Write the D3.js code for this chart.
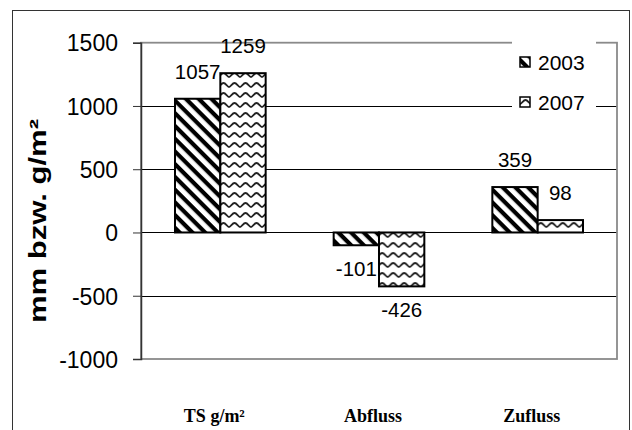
<!DOCTYPE html>
<html><head><meta charset="utf-8">
<script src="https://cdn.jsdelivr.net/npm/d3@7"></script>
<style>body{margin:0;background:#fff}svg{display:block}</style>
</head><body>
<script>
const categories = ["TS g/m²", "Abfluss", "Zufluss"];
const seriesNames = ["2003", "2007"];
const values2003 = [1057, -101, 359];
const values2007 = [1259, -426, 98];
const yTicks = [-1000, -500, 0, 500, 1000, 1500];
const yLabel = "mm bzw. g/m²";

(function () {
const W = 632, H = 430;
const svg = d3.select("body").append("svg").attr("width", W).attr("height", H);
const defs = svg.append("defs");

// stripes pattern
const p1 = defs.append("pattern").attr("id", "stripe").attr("patternUnits", "userSpaceOnUse")
  .attr("width", 9).attr("height", 9).attr("patternTransform", "rotate(45)");
p1.append("rect").attr("width", 9).attr("height", 9).attr("fill", "#fff");
p1.append("rect").attr("y", 0).attr("width", 9).attr("height", 4.2).attr("fill", "#000");
// wave pattern
const p2 = defs.append("pattern").attr("id", "wave").attr("patternUnits", "userSpaceOnUse")
  .attr("width", 11).attr("height", 10);
p2.append("rect").attr("width", 11).attr("height", 10).attr("fill", "#fff");
p2.append("path").attr("d", "M0,7 C1.8,7 3.2,3 5.5,3 C7.8,3 9.2,7 11,7")
  .attr("fill", "none").attr("stroke", "#222").attr("stroke-width", 1.8);
const fills = {"2003": "url(#stripe)", "2007": "url(#wave)"};

// outer border
svg.append("rect").attr("x", 12.5).attr("y", 10.5).attr("width", 617).attr("height", 440)
  .attr("fill", "none").attr("stroke", "#333").attr("stroke-width", 1);

const pl = 141, pr = 617, pt = 42.7, pb = 359;
const y = d3.scaleLinear().domain([-1000, 1500]).range([pb, pt]);
const x0 = d3.scaleBand().domain(categories).range([pl, pr]).padding(0);
const x1 = d3.scaleBand().domain(seriesNames).range([0, x0.bandwidth()]).paddingInner(0).paddingOuter(0.75);

// gridlines
svg.append("g").selectAll("line").data(yTicks.filter(t => t > -1000 && t < 1500)).join("line")
  .attr("x1", pl).attr("x2", pr).attr("y1", d => Math.round(y(d)) + 0.5).attr("y2", d => Math.round(y(d)) + 0.5)
  .attr("stroke", "#000").attr("stroke-width", 1);
// plot border (gray)
svg.append("rect").attr("x", pl).attr("y", pt).attr("width", pr - pl).attr("height", pb - pt)
  .attr("fill", "none").attr("stroke", "#8a8a8a").attr("stroke-width", 1.8);

// legend background
svg.append("rect").attr("x", 512).attr("y", 38).attr("width", 84).attr("height", 80).attr("fill", "#fff");

// bars
const data = categories.map((c, i) => ({cat: c, vals: [
  {s: "2003", v: values2003[i]}, {s: "2007", v: values2007[i]}]}));
const g = svg.append("g").selectAll("g").data(data).join("g")
  .attr("transform", d => `translate(${x0(d.cat)},0)`);
g.selectAll("rect").data(d => d.vals).join("rect")
  .attr("x", d => x1(d.s)).attr("width", x1.bandwidth())
  .attr("y", d => y(Math.max(0, d.v))).attr("height", d => Math.abs(y(d.v) - y(0)))
  .attr("fill", d => fills[d.s]).attr("stroke", "#000").attr("stroke-width", 2);
g.selectAll("text").data(d => d.vals).join("text")
  .attr("x", d => x1(d.s) + x1.bandwidth() / 2)
  .attr("y", d => d.v >= 0 ? y(d.v) - 20 : y(d.v) + 31)
  .attr("text-anchor", "middle").attr("font-family", "Arial, 'Liberation Sans', sans-serif")
  .attr("font-size", 20.5).text(d => String(d.v));

// y axis
const axis = svg.append("g").attr("transform", `translate(${pl},0)`)
  .call(d3.axisLeft(y).tickValues(yTicks).tickSize(8).tickPadding(0).tickFormat(d => String(d)));
axis.select(".domain").attr("stroke", "#333").attr("stroke-width", 1.5);
axis.selectAll(".tick line").attr("stroke", "#333");
axis.selectAll(".tick text").attr("font-family", "Arial, 'Liberation Sans', sans-serif")
  .attr("font-size", 23).attr("fill", "#000").attr("dy", "0.36em")
  .attr("text-anchor", "end").attr("x", -23);

// y label
svg.append("text").attr("transform", "translate(46,221) rotate(-90) scale(1.35,1)")
  .attr("text-anchor", "middle").attr("font-family", "Arial, 'Liberation Sans', sans-serif")
  .attr("font-weight", "bold").attr("font-size", 23).text(yLabel);

// category labels
svg.append("g").selectAll("text").data(categories).join("text")
  .attr("x", d => x0(d) + x0.bandwidth() / 2 - 6).attr("y", 422)
  .attr("text-anchor", "middle").attr("font-family", "'Times New Roman', 'Liberation Serif', serif")
  .attr("font-weight", "bold").attr("font-size", 18).text(d => d);

// legend
const leg = svg.append("g").selectAll("g").data(seriesNames).join("g")
  .attr("transform", (d, i) => `translate(520,${57 + i * 40})`);
leg.append("rect").attr("width", 10).attr("height", 10).attr("fill", d => fills[d])
  .attr("stroke", "#000").attr("stroke-width", 1.5);
leg.append("text").attr("x", 18).attr("y", 12.5).attr("font-family", "Arial, 'Liberation Sans', sans-serif")
  .attr("font-size", 21).text(d => d);
})();
</script>
</body></html>
